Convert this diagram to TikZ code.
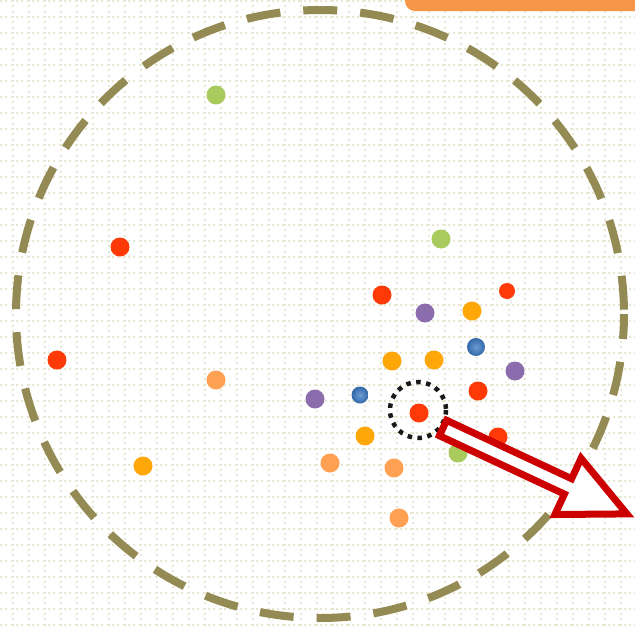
\documentclass[tikz,border=0pt]{standalone}
\definecolor{gridc}{HTML}{E8E8D2}
\definecolor{olive}{HTML}{948A54}
\definecolor{barc}{HTML}{F79646}
\definecolor{redd}{HTML}{FF3A08}
\definecolor{amber}{HTML}{FFA608}
\definecolor{lorange}{HTML}{FFA052}
\definecolor{purp}{HTML}{8B6DAD}
\definecolor{bluec}{HTML}{3B7BC6}
\definecolor{greenc}{HTML}{A9CB5E}
\definecolor{arrowred}{HTML}{CC0000}
\tikzset{
  gridline/.style={draw=gridc, line width=2pt, dash pattern=on 2pt off 3.33pt},
  dotr/.style={circle, inner sep=0pt, minimum size=19pt, fill=#1},
  dotb/.style={circle, inner sep=0pt, minimum size=18pt, inner color=bluec!75!white, outer color=bluec!85!black},
}
\begin{document}
\begin{tikzpicture}[x=1pt,y=-1pt]
\clip (0,0) rectangle (635,627);
\fill[white] (0,0) rectangle (635,627);
% background grid
\foreach \k in {0,...,39} {
  \draw[gridline] (13+16*\k,0) -- (13+16*\k,627);
  \draw[gridline] (0,1+16*\k) -- (635,1+16*\k);
}
% top bar
\fill[barc, rounded corners=10pt] (405,-15) rectangle (650,11);
% big dashed circle
\draw[olive, line width=8pt, dash pattern=on 34pt off 23pt, dash phase=9pt] (320,314) circle[radius=304];
% dots
\node[dotr=greenc] (g1) at (216,95) {};
\node[dotr=redd] (r1) at (120,247) {};
\node[dotr=redd] (r2) at (57,360) {};
\node[dotr=lorange] (o1) at (216,380) {};
\node[dotr=amber] (a1) at (143,466) {};
\node[dotr=greenc] (g2) at (441,239) {};
\node[dotr=redd] (r3) at (382,295) {};
\node[dotr=purp] (p1) at (425,313) {};
\node[dotr=amber] (a2) at (472,311) {};
\node[dotr=redd, minimum size=16pt] (r4) at (507,291) {};
\node[dotb] (b1) at (476,347) {};
\node[dotr=amber] (a3) at (392,361) {};
\node[dotr=amber] (a4) at (434,360) {};
\node[dotr=purp] (p2) at (515,371) {};
\node[dotr=redd] (r5) at (478,391) {};
\node[dotr=purp] (p3) at (315,399) {};
\node[dotb, minimum size=17pt] (b2) at (360,395) {};
\node[dotr=redd] (r6) at (419,413) {};
\node[dotr=amber] (a5) at (365,436) {};
\node[dotr=redd] (r7) at (498,437) {};
\node[dotr=greenc] (g3) at (458,453) {};
\node[dotr=lorange] (o2) at (330,463) {};
\node[dotr=lorange] (o3) at (394,468) {};
\node[dotr=lorange] (o4) at (399,518) {};
% dotted circle
\draw[black!90, line width=4.5pt, dash pattern=on 4.5pt off 5.5pt] (418,410) circle[radius=28];
% arrow
\draw[arrowred, fill=white, line width=7pt, line join=miter]
  (446.6,420.3) -- (571.6,478.7) -- (581.1,458.3) -- (626.9,513.9)
  -- (554.9,514.5) -- (564.4,494.1) -- (439.4,435.7) -- cycle;
\end{tikzpicture}
\end{document}
